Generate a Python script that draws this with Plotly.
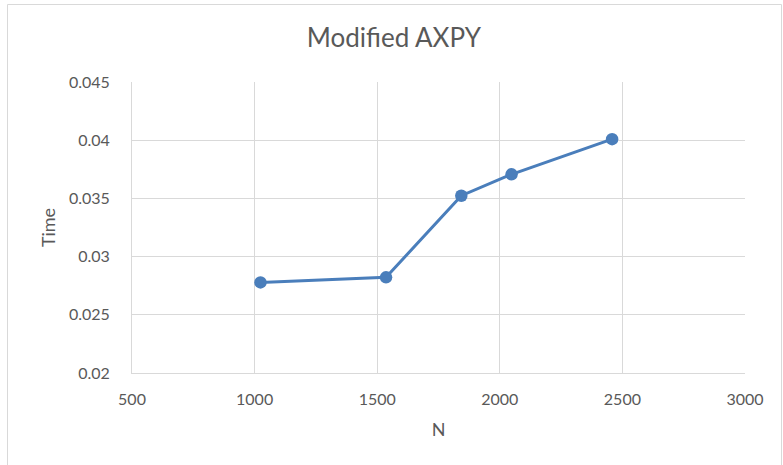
import plotly.graph_objects as go

# Problem sizes and measured run times
n_values = [1024, 1536, 1843, 2048, 2458]
times = [0.02778, 0.02822, 0.03523, 0.03707, 0.04009]

x_ticks = [500, 1000, 1500, 2000, 2500, 3000]
y_ticks = [0.02, 0.025, 0.03, 0.035, 0.04, 0.045]
y_tick_text = ["0.02", "0.025", "0.03", "0.035", "0.04", "0.045"]

LINE_BLUE = "#4A7EBB"
GRID = "#D9D9D9"
TEXT_GREY = "#595959"
FONT = "Lato, 'Open Sans', sans-serif"

fig = go.Figure()
fig.add_trace(go.Scatter(
    x=n_values,
    y=times,
    mode="lines+markers",
    line=dict(color=LINE_BLUE, width=3),
    marker=dict(color=LINE_BLUE, size=12.5),
    showlegend=False,
))

W, H = 783, 465
ML, MR, MT, MB = 132, 38, 82, 92
plot_w = W - ML - MR
plot_h = H - MT - MB

# Light chart-area border, expressed in paper coordinates of the plot area
def px_to_paper_x(px):
    return (px - ML) / plot_w

def py_to_paper_y(py):
    return (H - MB - py) / plot_h

fig.add_shape(
    type="rect", xref="paper", yref="paper",
    x0=px_to_paper_x(7.5), x1=px_to_paper_x(781.5),
    y0=py_to_paper_y(480), y1=py_to_paper_y(4.5),
    line=dict(color=GRID, width=1), fillcolor="rgba(0,0,0,0)", layer="below",
)

fig.update_layout(
    width=W, height=H,
    margin=dict(l=ML, r=MR, t=MT, b=MB),
    paper_bgcolor="white",
    plot_bgcolor="white",
    font=dict(family=FONT, color=TEXT_GREY),
    title=dict(
        text="Modified AXPY",
        x=0.503, xref="container", xanchor="center",
        y=1 - 38 / H, yref="container", yanchor="middle",
        font=dict(size=26, color=TEXT_GREY, family=FONT),
    ),
    xaxis=dict(
        range=[500, 3000],
        tickmode="array", tickvals=x_ticks,
        ticktext=[str(v) for v in x_ticks],
        showgrid=True, gridcolor=GRID, gridwidth=1,
        zeroline=False, showline=True, linecolor=GRID, mirror=False,
        ticks="", ticklabelstandoff=12,
        tickfont=dict(size=16, color=TEXT_GREY),
        title=dict(text="N", font=dict(size=18, color=TEXT_GREY), standoff=16),
        fixedrange=True,
    ),
    yaxis=dict(
        range=[0.02, 0.045],
        tickmode="array", tickvals=y_ticks, ticktext=y_tick_text,
        showgrid=True, gridcolor=GRID, gridwidth=1,
        zeroline=False, showline=True, linecolor=GRID,
        ticks="", ticklabelstandoff=18,
        tickfont=dict(size=16, color=TEXT_GREY),
        title=dict(text="Time", font=dict(size=18, color=TEXT_GREY), standoff=8),
        fixedrange=True,
    ),
)

fig.write_html("out.html")
